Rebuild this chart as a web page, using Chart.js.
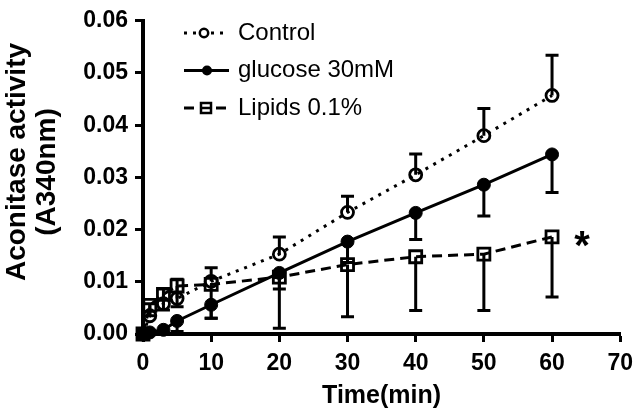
<!DOCTYPE html>
<html>
<head>
<meta charset="utf-8">
<style>
  html, body { margin: 0; padding: 0; background: #fff; }
  #wrap { width: 641px; height: 418px; }
</style>
<script src="https://cdn.jsdelivr.net/npm/chart.js@4"></script>
</head>
<body>
<div id="wrap"><canvas id="aconitaseChart" width="641" height="418"></canvas></div>
<script>
// Sample times (min)
const times = [0, 1, 3, 5, 10, 20, 30, 40, 50, 60];

// Mean activity (A340nm) per group
const control = [0, 0.0035, 0.0058, 0.0068, 0.0101, 0.0153, 0.0233, 0.0305, 0.0380, 0.0457];
const glucose = [0, 0.0003, 0.0008, 0.0025, 0.0056, 0.0117, 0.0177, 0.0232, 0.0286, 0.0344];
const lipids = [0, 0.0055, 0.0076, 0.0092, 0.0095, 0.0109, 0.0133, 0.0148, 0.0153, 0.0186];

// One-sided error bars (control up, the others down)
const controlErr = [0, 0.0023, 0.0028, 0.0037, 0.0026, 0.0033, 0.0031, 0.0040, 0.0052, 0.0077];
const glucoseErr = [0, 0.0003, 0.0006, 0.0020, 0.0026, 0.0031, 0.0040, 0.0051, 0.0060, 0.0073];
const lipidsErr = [0, 0.0020, 0.0030, 0.0040, 0.0065, 0.0098, 0.0100, 0.0103, 0.0108, 0.0115];

const xTicks = [0, 10, 20, 30, 40, 50, 60, 70];
const yTicks = [0, 0.01, 0.02, 0.03, 0.04, 0.05, 0.06];

const seriesLabels = ['Control', 'glucose 30mM', 'Lipids 0.1%'];
const yTitle = ['Aconitase activity', '(A340nm)'];
const xTitle = 'Time(min)';

const FONT = "'Liberation Sans', Arial, Helvetica, sans-serif";

const toPoints = vals => times.map((t, i) => ({ x: t, y: vals[i] }));

// Draw the error bars through the chart scales
const errorBars = {
  id: 'errorBars',
  beforeDatasetsDraw(chart) {
    const { ctx, scales: { x, y } } = chart;
    ctx.save();
    ctx.strokeStyle = '#000';
    ctx.lineWidth = 3;
    chart.data.datasets.forEach(ds => {
      ds.data.forEach((p, i) => {
        const e = ds.err[i];
        if (!e) return;
        const px = x.getPixelForValue(p.x);
        const y0 = y.getPixelForValue(p.y);
        const y1 = y.getPixelForValue(p.y + ds.errDir * e);
        ctx.beginPath();
        ctx.moveTo(px, y0);
        ctx.lineTo(px, y1);
        ctx.moveTo(px - 6.5, y1);
        ctx.lineTo(px + 6.5, y1);
        ctx.stroke();
      });
    });
    ctx.restore();
  }
};

// Legend drawn inside the plot, GraphPad style
const insideLegend = {
  id: 'insideLegend',
  afterDraw(chart) {
    const ctx = chart.ctx;
    const rows = [33, 70.5, 108];
    ctx.save();
    chart.data.datasets.forEach((ds, i) => {
      const yy = rows[i];
      ctx.strokeStyle = '#000';
      ctx.lineWidth = 3;
      ctx.setLineDash(ds.borderDash || []);
      ctx.beginPath();
      ctx.moveTo(184, yy);
      ctx.lineTo(229, yy);
      ctx.stroke();
      ctx.setLineDash([]);
      ctx.lineWidth = 2.5;
      ctx.beginPath();
      if (ds.pointStyle === 'rect') {
        ctx.rect(206 - 5, yy - 5, 10, 10);
        ctx.fillStyle = '#fff';
        ctx.fill();
        ctx.stroke();
        ctx.beginPath();
        ctx.moveTo(202, yy);
        ctx.lineTo(210, yy);
        ctx.stroke();
      } else if (ds.pointBackgroundColor === '#000') {
        ctx.arc(207, yy, 5, 0, Math.PI * 2);
        ctx.fillStyle = '#000';
        ctx.fill();
      } else {
        ctx.arc(204, yy, 4.2, 0, Math.PI * 2);
        ctx.fillStyle = '#fff';
        ctx.fill();
        ctx.stroke();
      }
      ctx.fillStyle = '#000';
      ctx.font = '24px ' + FONT;
      ctx.textBaseline = 'middle';
      ctx.textAlign = 'left';
      ctx.fillText(seriesLabels[i], 238, yy);
    });
    ctx.restore();
  }
};

// Y axis title (two lines) and the significance mark
const annotations = {
  id: 'annotations',
  afterDraw(chart) {
    const { ctx, scales: { x, y } } = chart;
    ctx.save();
    ctx.fillStyle = '#000';
    ctx.font = 'bold 28px ' + FONT;
    ctx.textAlign = 'center';
    ctx.textBaseline = 'middle';
    ctx.translate(17, 162);
    ctx.rotate(-Math.PI / 2);
    ctx.fillText(yTitle[0], 0, 0);
    ctx.fillText(yTitle[1], -10, 30);
    ctx.restore();

    ctx.save();
    ctx.fillStyle = '#000';
    ctx.font = 'bold 40px ' + FONT;
    ctx.textAlign = 'center';
    ctx.textBaseline = 'alphabetic';
    const last = times.length - 1;
    ctx.fillText('*', x.getPixelForValue(times[last]) + 30, y.getPixelForValue(lipids[last]) + 22);
    ctx.restore();
  }
};

const ctx = document.getElementById('aconitaseChart').getContext('2d');

new Chart(ctx, {
  type: 'line',
  data: {
    datasets: [
      {
        label: seriesLabels[0],
        data: toPoints(control),
        err: controlErr,
        errDir: 1,
        borderColor: '#000',
        borderWidth: 3,
        borderDash: [3, 6],
        pointStyle: 'circle',
        pointRadius: 6,
        pointBorderWidth: 2.8,
        pointBorderColor: '#000',
        pointBackgroundColor: 'rgba(0,0,0,0)',
        clip: false
      },
      {
        label: seriesLabels[1],
        data: toPoints(glucose),
        err: glucoseErr,
        errDir: -1,
        borderColor: '#000',
        borderWidth: 3,
        pointStyle: 'circle',
        pointRadius: 6.5,
        pointBorderWidth: 1,
        pointBorderColor: '#000',
        pointBackgroundColor: '#000',
        clip: false
      },
      {
        label: seriesLabels[2],
        data: toPoints(lipids),
        err: lipidsErr,
        errDir: -1,
        borderColor: '#000',
        borderWidth: 3,
        borderDash: [10, 6],
        pointStyle: 'rect',
        pointRadius: 8.5,
        pointBorderWidth: 2.8,
        pointBorderColor: '#000',
        pointBackgroundColor: 'rgba(0,0,0,0)',
        clip: false
      }
    ]
  },
  options: {
    responsive: false,
    animation: false,
    layout: { padding: { top: 15, right: 18, left: 0, bottom: 0 } },
    plugins: {
      legend: { display: false },
      tooltip: { enabled: false }
    },
    scales: {
      x: {
        type: 'linear',
        min: 0,
        max: 70,
        afterFit: scale => { scale.height = 84; },
        afterBuildTicks: scale => { scale.ticks = xTicks.map(v => ({ value: v })); },
        border: { display: true, color: '#000', width: 4 },
        grid: { display: true, drawOnChartArea: false, drawTicks: true, tickLength: 8, tickWidth: 3, tickColor: '#000' },
        ticks: {
          color: '#000',
          padding: 8,
          font: { family: FONT, size: 23, weight: 'bold' }
        },
        title: {
          display: true,
          text: xTitle,
          color: '#000',
          padding: { top: 0, bottom: 7 },
          font: { family: FONT, size: 25, weight: 'bold', lineHeight: 1.2 }
        }
      },
      y: {
        min: 0,
        max: 0.06,
        afterFit: scale => { scale.width = 143; },
        afterBuildTicks: scale => { scale.ticks = yTicks.map(v => ({ value: v })); },
        border: { display: true, color: '#000', width: 4 },
        grid: { display: true, drawOnChartArea: false, drawTicks: true, tickLength: 8, tickWidth: 3, tickColor: '#000' },
        ticks: {
          color: '#000',
          padding: 7,
          font: { family: FONT, size: 23, weight: 'bold' },
          callback: v => v.toFixed(2)
        }
      }
    }
  },
  plugins: [errorBars, insideLegend, annotations]
});
</script>
</body>
</html>
